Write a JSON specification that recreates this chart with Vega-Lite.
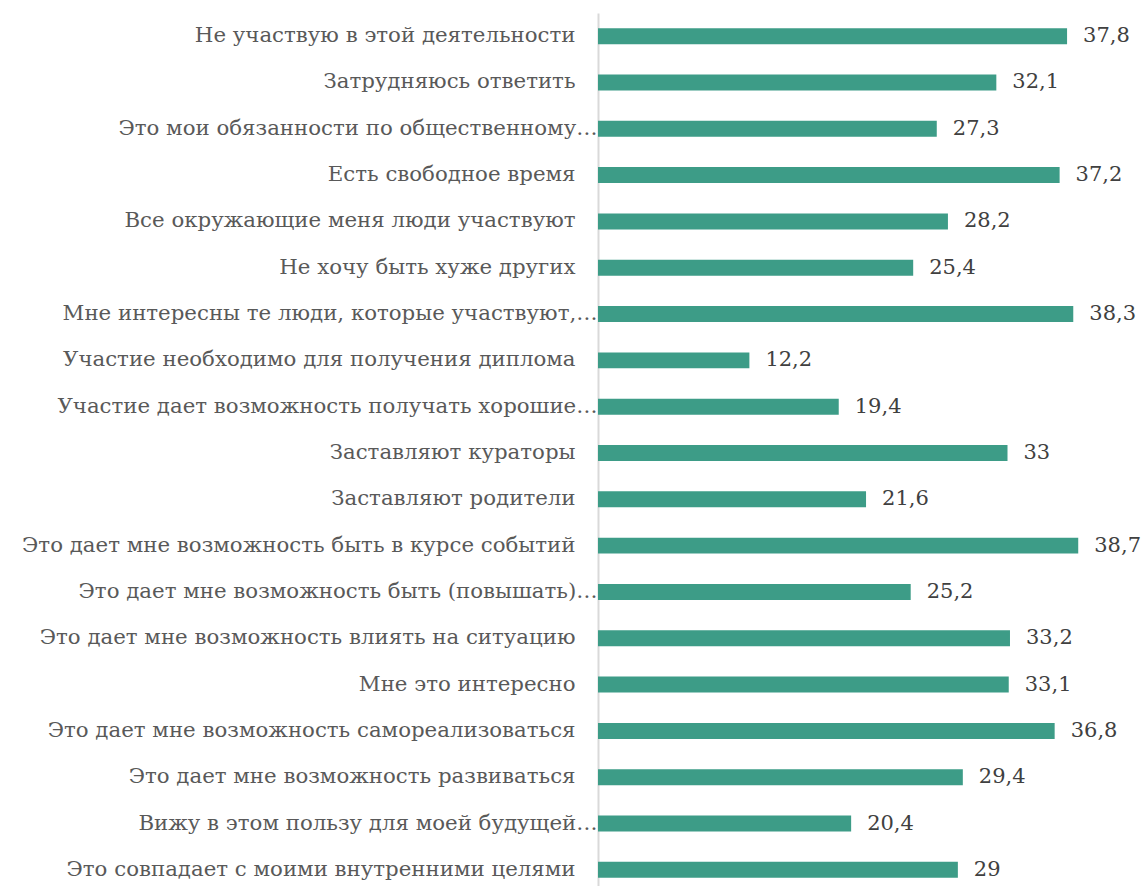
{
  "$schema": "https://vega.github.io/schema/vega-lite/v6.json",
  "autosize": {"type": "none"},
  "padding": {"left": 598, "top": 13, "right": 0, "bottom": 0},
  "width": 546,
  "height": 880,
  "background": "#ffffff",
  "config": {
    "view": {"stroke": null},
    "locale": {"number": {"decimal": ",", "thousands": " ", "grouping": [3], "currency": ["", ""]}}
  },
  "data": {
    "values": [
      {"category": "Не участвую в этой деятельности", "value": 37.8},
      {"category": "Затрудняюсь ответить", "value": 32.1},
      {"category": "Это мои обязанности по общественному…", "value": 27.3},
      {"category": "Есть свободное время", "value": 37.2},
      {"category": "Все окружающие меня люди участвуют", "value": 28.2},
      {"category": "Не хочу быть хуже других", "value": 25.4},
      {"category": "Мне интересны те люди, которые участвуют,…", "value": 38.3},
      {"category": "Участие необходимо для получения диплома", "value": 12.2},
      {"category": "Участие дает возможность получать хорошие…", "value": 19.4},
      {"category": "Заставляют кураторы", "value": 33},
      {"category": "Заставляют родители", "value": 21.6},
      {"category": "Это дает мне возможность быть в курсе событий", "value": 38.7},
      {"category": "Это дает мне возможность быть (повышать)…", "value": 25.2},
      {"category": "Это дает мне возможность влиять на ситуацию", "value": 33.2},
      {"category": "Мне это интересно", "value": 33.1},
      {"category": "Это дает мне возможность самореализоваться", "value": 36.8},
      {"category": "Это дает мне возможность развиваться", "value": 29.4},
      {"category": "Вижу в этом пользу для моей будущей…", "value": 20.4},
      {"category": "Это совпадает с моими внутренними целями", "value": 29}
    ]
  },
  "encoding": {
    "y": {
      "field": "category",
      "type": "nominal",
      "sort": null,
      "scale": {"paddingInner": 0.655, "paddingOuter": 0.3275},
      "axis": {
        "title": null,
        "ticks": false,
        "domainColor": "#d9d9d9",
        "domainWidth": 2,
        "labelFont": "DejaVu Serif",
        "labelFontSize": 21.3,
        "labelColor": "#595959",
        "labelLimit": 900,
        "labelPadding": {"condition": {"test": "indexof(datum.label, '…') >= 0", "value": 1}, "value": 23}
      }
    },
    "x": {
      "field": "value",
      "type": "quantitative",
      "scale": {"domain": [0, 44], "nice": false},
      "axis": null
    }
  },
  "layer": [
    {"mark": {"type": "bar", "color": "#3d9c87"}},
    {
      "mark": {"type": "text", "align": "left", "baseline": "middle", "dx": 16, "font": "DejaVu Serif", "fontSize": 21, "color": "#404040"},
      "encoding": {"text": {"field": "value", "type": "quantitative", "format": ".1~f"}}
    }
  ]
}
